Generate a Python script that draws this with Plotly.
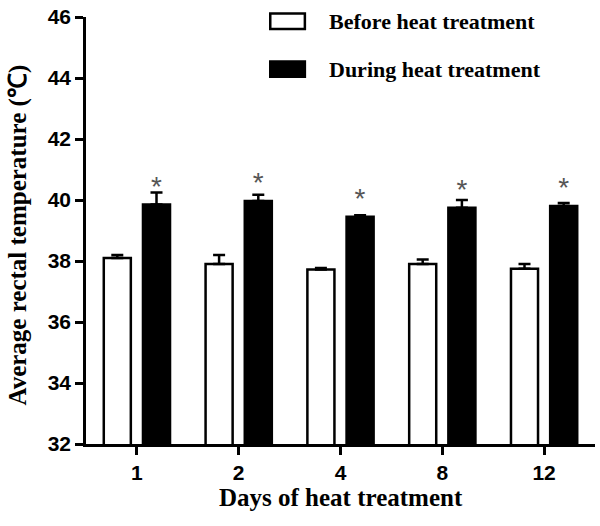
import plotly.graph_objects as go

days = ["1", "2", "4", "8", "12"]
before_mean = [38.1, 37.9, 37.72, 37.9, 37.75]
before_err = [0.1, 0.3, 0.05, 0.15, 0.15]
during_mean = [39.85, 39.97, 39.45, 39.75, 39.8]
during_err = [0.4, 0.2, 0.05, 0.25, 0.1]
signif = ["*", "*", "*", "*", "*"]

serif = "Liberation Serif, Times New Roman, serif"
sans = "Liberation Sans, Arial, sans-serif"

fig = go.Figure()

fig.add_trace(
    go.Bar(
        x=days,
        y=before_mean,
        name="Before heat treatment",
        marker=dict(color="white", line=dict(color="black", width=2.5)),
        error_y=dict(type="data", array=before_err, arrayminus=[0] * 5,
                     color="black", thickness=2.5, width=6),
        showlegend=False,
    )
)
# significance stars sit on the heat-treatment bars as outside text
fig.add_trace(
    go.Bar(
        x=days,
        y=during_mean,
        name="During heat treatment",
        marker=dict(color="black", line=dict(color="black", width=2.5)),
        error_y=dict(type="data", array=during_err, arrayminus=[0] * 5,
                     color="black", thickness=2.5, width=6),
        text=signif,
        textposition="outside",
        constraintext="none",
        cliponaxis=False,
        outsidetextfont=dict(size=28, color="#555", family=sans),
        showlegend=False,
    )
)

# hand-drawn legend, GraphPad style
legend_items = [("Before heat treatment", "white", 0.99), ("During heat treatment", "black", 0.878)]
shapes = []
annotations = []
for label, color, yc in legend_items:
    shapes.append(dict(type="rect", xref="paper", yref="paper",
                       x0=0.362, x1=0.43, y0=yc - 0.018, y1=yc + 0.018,
                       fillcolor=color, line=dict(color="black", width=2.5)))
    annotations.append(dict(xref="paper", yref="paper", x=0.474, y=yc,
                            xanchor="left", yanchor="middle", showarrow=False,
                            text="<b>%s</b>" % label,
                            font=dict(family=serif, size=22, color="black")))

# axis titles
annotations.append(dict(xref="paper", yref="paper", x=0.5, y=-0.125,
                        xanchor="center", yanchor="middle", showarrow=False,
                        text="<b>Days of heat treatment</b>",
                        font=dict(family=serif, size=25, color="black")))
annotations.append(dict(xref="paper", yref="paper", x=-0.134, y=0.49,
                        xanchor="center", yanchor="middle", showarrow=False,
                        textangle=-90,
                        text="<b>Average rectal temperature (℃)</b>",
                        font=dict(family=serif, size=25, color="black")))

fig.update_layout(
    width=600,
    height=526,
    plot_bgcolor="white",
    paper_bgcolor="white",
    barmode="group",
    bargap=0.23,
    bargroupgap=0.31,
    margin=dict(l=86, r=5, t=12, b=82),
    shapes=shapes,
    annotations=annotations,
    xaxis=dict(
        showline=True, linecolor="black", linewidth=2.5,
        ticks="outside", ticklen=8, tickwidth=2.5, tickcolor="black",
        tickfont=dict(family=sans, size=21, color="black", weight="bold"),
        showgrid=False,
    ),
    yaxis=dict(
        range=[32, 46],
        dtick=2,
        showline=True, linecolor="black", linewidth=2.5,
        ticks="outside", ticklen=8, tickwidth=2.5, tickcolor="black",
        tickfont=dict(family=sans, size=21, color="black", weight="bold"),
        showgrid=False,
        zeroline=False,
    ),
)

fig.write_html("out.html", config={"displayModeBar": False},
               post_script="document.body.style.margin='0';")
